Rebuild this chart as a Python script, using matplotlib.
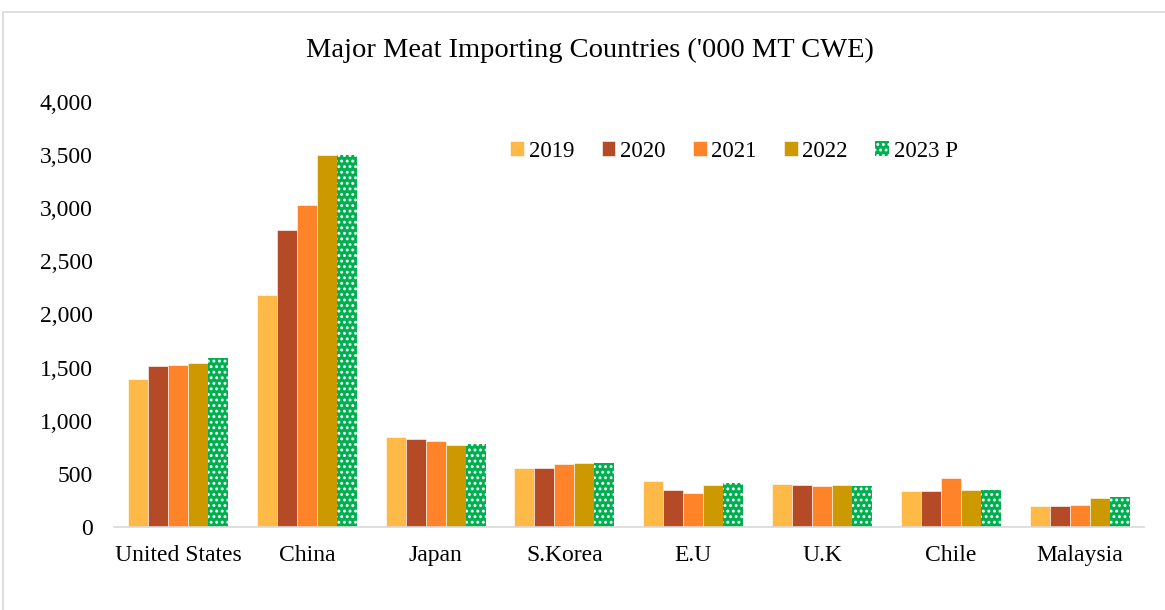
import numpy as np
import matplotlib.pyplot as plt
from matplotlib.patches import Rectangle
from matplotlib.ticker import FuncFormatter

plt.rcParams['font.family'] = ['Liberation Serif', 'DejaVu Serif']
plt.rcParams['hatch.linewidth'] = 1.3

countries = ['United States', 'China', 'Japan', 'S.Korea', 'E.U', 'U.K', 'Chile', 'Malaysia']
years = ['2019', '2020', '2021', '2022', '2023 P']
v2019 = [1390, 2180, 850, 555, 433, 402, 340, 195]
v2020 = [1515, 2790, 830, 555, 348, 395, 340, 200]
v2021 = [1520, 3030, 810, 593, 320, 389, 458, 210]
v2022 = [1540, 3500, 775, 600, 395, 395, 345, 276]
v2023 = [1590, 3500, 780, 600, 414, 386, 345, 282]
series = [v2019, v2020, v2021, v2022, v2023]
colors = ['#FFB946', '#B54A26', '#FF8329', '#CC9900', '#00B050']

fig = plt.figure(figsize=(11.65, 6.1), dpi=100)
ax = fig.add_axes([0.0975, 0.136, 0.8845, 0.697])

# светло-серая рамка вокруг графика
fig.patches.append(Rectangle((3 / 1165, -0.5), 2, 0.5 + 1 - 12 / 610, transform=fig.transFigure,
                             fill=False, edgecolor='#D9D9D9', linewidth=1.2))

x = np.arange(len(countries))
w = 0.155
for i, (vals, c, lab) in enumerate(zip(series, colors, years)):
    pos = x + (i - 2) * w
    if i == 4:
        ax.bar(pos, vals, w, color=c, edgecolor='white', hatch='...', linewidth=0, label=lab)
    else:
        ax.bar(pos, vals, w, color=c, edgecolor='white', linewidth=0.4, label=lab)

ax.set_ylim(0, 4000)
ax.set_xlim(-0.5, len(countries) - 0.5)
ax.set_yticks(np.arange(0, 4001, 500))
ax.yaxis.set_major_formatter(FuncFormatter(lambda v, p: f'{int(v):,}'))
ax.set_xticks(x)
ax.set_xticklabels(countries)
ax.tick_params(axis='both', length=0, labelsize=17)
ax.tick_params(axis='x', pad=13)
ax.tick_params(axis='y', pad=15)
for s in ['top', 'right', 'left']:
    ax.spines[s].set_visible(False)
ax.spines['bottom'].set_color('#D9D9D9')
ax.spines['bottom'].set_linewidth(1.2)

fig.text(0.506, 0.918, "Major Meat Importing Countries ('000 MT CWE)", ha='center', va='center', fontsize=20.5)

ax.legend(loc='center', bbox_to_anchor=(0.630, 0.752), bbox_transform=fig.transFigure,
          ncol=5, frameon=False, fontsize=16.5, handlelength=0.6, handleheight=0.6,
          handletextpad=0.2, columnspacing=1.2)

plt.savefig('out.png', dpi=100)
plt.close()
